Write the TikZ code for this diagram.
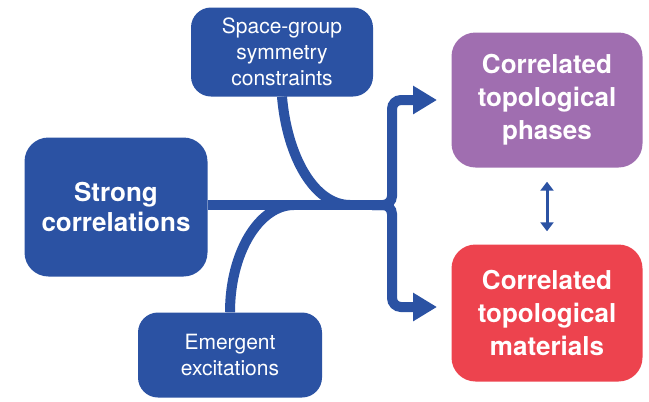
\documentclass[tikz,border=0pt]{standalone}
\usepackage{fontspec}
\setmainfont{TeX Gyre Heros}
\usepackage{xcolor}
\usepackage{tikz}
\usetikzlibrary{arrows.meta,positioning,calc}

\definecolor{mainblue}{RGB}{43,82,163}
\definecolor{phasepurple}{RGB}{160,110,176}
\definecolor{matred}{RGB}{237,67,78}

\begin{document}
\begin{tikzpicture}[
    x=1pt, y=-1pt,
    bigbox/.style={rectangle, rounded corners=24pt, text=white, align=center, inner sep=0pt, font=\fontsize{26}{30}\selectfont\bfseries},
    smallbox/.style={rectangle, rounded corners=20pt, fill=mainblue, text=white, align=center, inner sep=0pt, font=\fontsize{21}{26}\selectfont},
    flow/.style={draw=mainblue, line width=10pt},
    arrow/.style={flow, -{Triangle[length=24pt, width=27pt]}, rounded corners=9pt},
    dblarrow/.style={draw=mainblue, line width=3pt, {Triangle[length=9pt, width=13pt]}-{Triangle[length=9pt, width=13pt]}}
]
\useasboundingbox (0,0) rectangle (649,402);
\node (strong) [bigbox, fill=mainblue, minimum width=183pt, minimum height=139pt] at (116,207) {Strong\\correlations};
\node (space) [smallbox, minimum width=182pt, minimum height=89pt] at (282,52) {Space-group\\symmetry\\constraints};
\node (emerg) [smallbox, minimum width=184pt, minimum height=85pt] at (230,355) {Emergent\\excitations};
\node (phases) [bigbox, fill=phasepurple, minimum width=191pt, minimum height=135pt, font=\fontsize{26}{33}\selectfont\bfseries] at (547,100) {\raisebox{-3pt}{\parbox{180pt}{\centering Correlated\\topological\\phases}}};
\node (mater) [bigbox, fill=matred, minimum width=191pt, minimum height=137pt, font=\fontsize{26}{33}\selectfont\bfseries] at (547,313) {Correlated\\topological\\materials};

\coordinate (split) at (392,205);
\coordinate (tipA) at (437,100);
\coordinate (tipB) at (437,307);

% trunk and branches
\draw[flow] (strong.east |- split) -- (split);
\draw[flow] (space.south) .. controls (287,156) and (314,205) .. (350,205);
\draw[flow] (emerg.north) .. controls (230,253) and (259,205) .. (294,205);
\draw[arrow] ($(split)+(-20,0)$) -- (split) -- (split |- tipA) -- (tipA);
\draw[arrow] ($(split)+(-20,0)$) -- (split) -- (split |- tipB) -- (tipB);

\draw[dblarrow] ([yshift=-14pt]phases.south) -- ([yshift=13pt]mater.north);
\end{tikzpicture}
\end{document}
